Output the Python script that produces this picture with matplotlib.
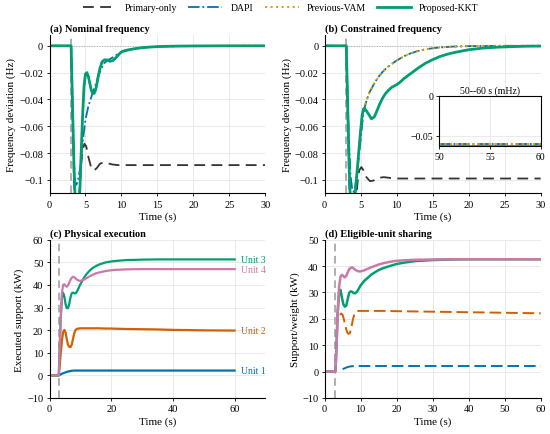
import numpy as np
import matplotlib
matplotlib.use("Agg")
import matplotlib.pyplot as plt
from matplotlib.ticker import FuncFormatter

# ---- (a) nominal frequency ----
ta_kkt = [0, 3.0, 3.2, 3.4, 3.6, 3.8, 4.0, 4.2, 4.4, 4.6, 4.8, 5.0, 5.2, 5.4, 5.6, 5.8, 6.0, 6.2, 6.4,
          6.6, 6.8, 7.0, 7.3, 7.6, 8.0, 8.4, 8.8, 9.2, 9.6, 10, 10.5, 11, 12, 13, 14, 15, 16, 18, 20, 25, 30]
fa_kkt = [0, 0, -0.045, -0.09, -0.12, -0.13, -0.125, -0.11, -0.08, -0.052, -0.03, -0.021, -0.020, -0.023,
          -0.028, -0.033, -0.0355, -0.0355, -0.033, -0.028, -0.022, -0.017, -0.012, -0.0105, -0.0105, -0.0115,
          -0.011, -0.009, -0.0065, -0.0045, -0.0035, -0.003, -0.002, -0.0013, -0.0009, -0.0006, -0.0004,
          -0.0002, -0.0001, 0, 0]
ta_dapi = [0, 3.0, 3.2, 3.4, 3.6, 3.8, 4.0, 4.3, 4.6, 5.0, 5.4, 5.7, 6.0, 6.4, 6.8, 7.2, 7.6, 8.0, 8.5,
           9.0, 9.5, 10, 11, 12, 13, 14, 16, 18, 20, 25, 30]
fa_dapi = [0, 0, -0.045, -0.088, -0.104, -0.103, -0.099, -0.09, -0.072, -0.055, -0.045, -0.04, -0.035,
           -0.029, -0.022, -0.017, -0.013, -0.011, -0.0095, -0.008, -0.006, -0.0045, -0.003, -0.002,
           -0.0013, -0.0009, -0.0004, -0.0002, -0.0001, 0, 0]
ta_vam = ta_kkt
fa_vam = fa_kkt
ta_prim = [0, 3.0, 3.2, 3.4, 3.7, 4.0, 4.2, 4.4, 4.6, 4.85, 5.1, 5.4, 5.8, 6.2, 6.6, 7.0, 7.5, 8.0, 8.7,
           9.5, 12, 15, 20, 25, 30]
fa_prim = [0, 0, -0.05, -0.1, -0.145, -0.125, -0.105, -0.088, -0.078, -0.073, -0.075, -0.083, -0.091,
           -0.093, -0.091, -0.088, -0.087, -0.0875, -0.0885, -0.089, -0.089, -0.089, -0.089, -0.089, -0.089]

# ---- (b) constrained frequency ----
tb_kkt = [0, 3.0, 3.2, 3.4, 3.6, 3.8, 4.0, 4.2, 4.4, 4.6, 4.8, 5.0, 5.2, 5.4, 5.5, 5.8, 6.1, 6.5, 6.9,
          7.3, 7.6, 8.0, 8.4, 8.8, 9.3, 10, 10.5, 11, 12, 13, 14, 15, 16, 17, 18, 20, 22, 24, 26, 28, 30]
fb_kkt = [0, 0, -0.045, -0.09, -0.12, -0.135, -0.13, -0.112, -0.1, -0.088, -0.075, -0.063, -0.052, -0.047,
          -0.0466, -0.0485, -0.051, -0.0545, -0.053, -0.048, -0.044, -0.0395, -0.036, -0.0335, -0.031,
          -0.029, -0.027, -0.0245, -0.0205, -0.0165, -0.013, -0.0103, -0.008, -0.0063, -0.005, -0.0029,
          -0.0017, -0.001, -0.0006, -0.0003, -0.0002]
tb_dapi = [0, 3.0, 3.2, 3.4, 3.6, 3.8, 4.0, 4.2, 4.4, 4.6, 4.8, 5.0, 5.2, 5.4, 5.6, 5.8, 6.2, 6.6, 7.0,
           7.5, 8.0, 8.5, 9.0, 9.5, 10, 11, 12, 13, 14, 15, 16, 18, 20, 22, 25, 30]
fb_dapi = [0, 0, -0.04, -0.075, -0.097, -0.106, -0.109, -0.107, -0.099, -0.09, -0.08, -0.07, -0.059, -0.05,
           -0.045, -0.041, -0.035, -0.031, -0.027, -0.023, -0.0197, -0.017, -0.0148, -0.0128, -0.011,
           -0.0078, -0.0055, -0.0038, -0.0026, -0.0018, -0.0012, -0.0005, -0.0002, -0.0001, 0, 0]
tb_vam = [0, 3.0, 3.2, 3.4, 3.6, 3.8, 4.0, 4.2, 4.4, 4.6, 4.8, 5.0, 5.2, 5.4, 5.6, 5.8, 6.2, 6.6, 7.0,
          7.5, 8.0, 8.5, 9.0, 9.5, 10, 11, 12, 13, 14, 15, 16, 18, 20, 22, 25, 30]
fb_vam = [0, 0, -0.045, -0.09, -0.12, -0.135, -0.13, -0.112, -0.1, -0.088, -0.075, -0.063, -0.052, -0.047,
          -0.045, -0.041, -0.035, -0.031, -0.027, -0.023, -0.0197, -0.017, -0.0148, -0.0128, -0.011,
          -0.0078, -0.0055, -0.0038, -0.0026, -0.0018, -0.0012, -0.0005, -0.0002, -0.0001, 0, 0]
tb_prim = [0, 3.0, 3.2, 3.4, 3.6, 3.8, 4.0, 4.2, 4.4, 4.6, 4.8, 5.1, 5.4, 5.8, 6.3, 6.8, 7.5, 8.2, 9, 10,
           12, 20, 30]
fb_prim = [0, 0, -0.05, -0.1, -0.135, -0.148, -0.145, -0.13, -0.112, -0.1, -0.093, -0.0905, -0.093, -0.098,
           -0.101, -0.1005, -0.0985, -0.098, -0.0985, -0.099, -0.099, -0.099, -0.099]

# inset 50--60 s
t_ins = [50, 52.5, 55, 57.5, 60]
ins_dapi = [-0.0610, -0.0610, -0.0610, -0.0610, -0.0610]
ins_vam = [-0.0608, -0.0608, -0.0608, -0.0608, -0.0608]
ins_kkt = [-0.0628, -0.0628, -0.0628, -0.0628, -0.0628]
ins_prim = [-0.099, -0.099, -0.099, -0.099, -0.099]

# ---- (c) physical execution ----
tc = [0, 3.0, 3.3, 3.6, 4.0, 4.4, 4.8, 5.2, 5.6, 6.0, 6.4, 6.8, 7.2, 7.6, 8.0, 8.5, 9.0, 9.5, 10, 11, 12,
      13, 14, 15, 16, 18, 20, 22, 25, 30, 35, 40, 45, 50, 55, 60]
unit1 = [0, 0, 0.2, 0.4, 0.7, 0.9, 1.1, 1.3, 1.5, 1.65, 1.8, 1.9, 2.0, 2.05, 2.1, 2.1, 2.1, 2.1, 2.1, 2.1,
         2.1, 2.1, 2.1, 2.1, 2.1, 2.1, 2.1, 2.1, 2.1, 2.1, 2.1, 2.1, 2.1, 2.1, 2.1, 2.1]
unit2 = [0, 0, 4, 9, 15, 19, 20.1, 19, 16, 13.5, 12.6, 12.5, 13.5, 16, 18.5, 20.2, 20.6, 20.7, 20.8, 20.8,
         20.8, 20.8, 20.8, 20.8, 20.8, 20.7, 20.7, 20.6, 20.5, 20.4, 20.3, 20.1, 20.0, 19.9, 19.85, 19.8]
unit3 = [0, 0, 12, 24, 34, 36.5, 35, 31.5, 29.7, 29.8, 31.5, 34.5, 36.3, 36.6, 36.3, 36.3, 37.3, 38.8,
         40.3, 42.8, 44.8, 46.3, 47.5, 48.3, 49.0, 49.9, 50.4, 50.7, 51.0, 51.2, 51.3, 51.3, 51.3, 51.3,
         51.3, 51.3]
unit4 = [0, 0, 12, 24, 36, 40, 40.3, 39.6, 39.2, 39.8, 41, 42.3, 43.2, 43.6, 43.4, 42.8, 42.3, 41.9, 41.8,
         42.2, 43.0, 43.8, 44.5, 45.1, 45.5, 46.1, 46.5, 46.7, 46.9, 47.0, 47.0, 47.0, 47.0, 47.0, 47.0, 47.0]
unit_names = ["Unit 1", "Unit 2", "Unit 3", "Unit 4"]

# ---- (d) eligible-unit sharing ----
td = tc
share4 = [0, 0, 10, 22, 32, 36, 36.7, 36.2, 35.7, 36.3, 37.6, 38.8, 39.3, 39.5, 39.2, 38.6, 38.2, 38.0,
          38.0, 38.4, 39.0, 39.6, 40.1, 40.6, 41.0, 41.6, 42.0, 42.2, 42.4, 42.5, 42.6, 42.6, 42.6, 42.6,
          42.6, 42.6]
share3 = [0, 0, 10, 22, 30, 31, 28, 25.5, 24.6, 25, 27.5, 29.8, 30.4, 30.3, 29.8, 29.7, 30.3, 31.5, 32.7,
          34.4, 35.6, 36.8, 37.7, 38.5, 39.1, 40.0, 40.8, 41.3, 41.9, 42.3, 42.5, 42.6, 42.6, 42.6, 42.6, 42.6]
td2 = [4.2, 4.6, 5.0, 5.4, 5.8, 6.2, 6.6, 7.0, 7.4, 7.8, 8.2, 8.6, 9.0, 9.5, 10, 11, 12, 14, 16, 20, 25,
       30, 35, 40, 45, 50, 55, 60]
share2 = [21.5, 22.0, 21.5, 19.5, 17, 15, 14.3, 14.5, 16.5, 19.5, 21.5, 22.6, 22.9, 23.0, 23.0, 23.0, 23.0,
          23.0, 23.0, 22.9, 22.8, 22.7, 22.6, 22.5, 22.4, 22.3, 22.2, 22.1]
td1 = [5.0, 5.5, 6.0, 6.5, 7.0, 7.5, 8.0, 9, 10, 15, 20, 30, 40, 50, 60]
share1 = [0.9, 1.2, 1.5, 1.75, 1.9, 2.0, 2.05, 2.1, 2.1, 2.1, 2.1, 2.1, 2.1, 2.1, 2.1]

t_event = 3.0

C_PRIM = '#333333'
C_DAPI = '#0072B2'
C_VAM = '#E69F00'
C_KKT = '#009E73'
unit_colors = ['#0072B2', '#D55E00', '#009E73', '#CC79A7']


def fmt(v, pos):
    s = '%g' % v
    return s.replace('-', '\u2212')


def style(ax, title):
    ax.grid(True, color='#e6e6e6', linewidth=0.6)
    ax.set_axisbelow(True)
    for s in ['top', 'right']:
        ax.spines[s].set_visible(False)
    ax.spines['left'].set_linewidth(0.8)
    ax.spines['bottom'].set_linewidth(0.8)
    ax.tick_params(labelsize=7.5, length=2.5, width=0.6, pad=2)
    ax.yaxis.set_major_formatter(FuncFormatter(fmt))
    ax.set_title(title, loc='left', fontweight='bold', fontsize=7.5, pad=3)
    ax.axvline(t_event, color='#999999', linestyle=(0, (5, 3)), linewidth=1.1, zorder=1.5)


def freq_panel(ax, tp, fp, td_, fd, tv, fv, tk, fk, title):
    style(ax, title)
    ax.axhline(0, color='#aaaaaa', linestyle=':', linewidth=0.7, zorder=1)
    ax.plot(tp, fp, color=C_PRIM, linestyle=(0, (6, 3.5)), linewidth=1.3, label='Primary-only')
    ax.plot(td_, fd, color=C_DAPI, linestyle='-.', linewidth=1.3, label='DAPI')
    ax.plot(tv, fv, color=C_VAM, linestyle=':', linewidth=1.5, label='Previous-VAM')
    ax.plot(tk, fk, color=C_KKT, linestyle='-', linewidth=2.0, label='Proposed-KKT')
    ax.set_xlim(0, 30)
    ax.set_ylim(-0.11, 0.008)
    ax.set_xticks([0, 5, 10, 15, 20, 25, 30])
    ax.set_yticks([0, -0.02, -0.04, -0.06, -0.08, -0.1])
    ax.set_xlabel('Time (s)', fontsize=8, labelpad=2)
    ax.set_ylabel('Frequency deviation (Hz)', fontsize=8, labelpad=2)


def main():
    plt.rcParams['font.family'] = ['Liberation Serif', 'DejaVu Serif']
    plt.rcParams['mathtext.fontset'] = 'stix'

    fig, axes = plt.subplots(2, 2, figsize=(5.5, 4.35), dpi=100)
    fig.subplots_adjust(left=0.09, right=0.983, top=0.917, bottom=0.083, wspace=0.274, hspace=0.294)
    ax_a, ax_b = axes[0]
    ax_c, ax_d = axes[1]

    freq_panel(ax_a, ta_prim, fa_prim, ta_dapi, fa_dapi, ta_vam, fa_vam, ta_kkt, fa_kkt,
               '(a) Nominal frequency')
    freq_panel(ax_b, tb_prim, fb_prim, tb_dapi, fb_dapi, tb_vam, fb_vam, tb_kkt, fb_kkt,
               '(b) Constrained frequency')

    # inset
    ins = ax_b.inset_axes([0.53, 0.296, 0.47, 0.32])
    ins.plot(t_ins, ins_prim, color=C_PRIM, linestyle=(0, (6, 3.5)), linewidth=1.3)
    ins.plot(t_ins, ins_dapi, color=C_DAPI, linestyle='-.', linewidth=1.3)
    ins.plot(t_ins, ins_vam, color=C_VAM, linestyle=':', linewidth=1.5)
    ins.plot(t_ins, ins_kkt, color=C_KKT, linestyle='-', linewidth=2.0)
    ins.set_xlim(50, 60)
    ins.set_ylim(-0.0635, 0)
    ins.set_xticks([50, 55, 60])
    ins.set_yticks([0, -0.05])
    ins.yaxis.set_major_formatter(FuncFormatter(fmt))
    ins.grid(True, color='#e6e6e6', linewidth=0.6)
    ins.tick_params(labelsize=7, length=2, width=0.6, pad=2)
    for s in ins.spines.values():
        s.set_linewidth(0.8)
    ins.set_title('50--60 s (mHz)', fontsize=7, pad=2)

    # (c)
    style(ax_c, '(c) Physical execution')
    for vals, c, name in zip([unit1, unit2, unit3, unit4], unit_colors, unit_names):
        ax_c.plot(tc, vals, color=c, linewidth=1.6)
        ax_c.text(62, vals[-1], name, color=c, fontsize=7, va='center', ha='left')
    ax_c.set_xlim(0, 70)
    ax_c.set_ylim(-10, 60)
    ax_c.set_xticks([0, 20, 40, 60])
    ax_c.set_yticks([-10, 0, 10, 20, 30, 40, 50, 60])
    ax_c.set_xlabel('Time (s)', fontsize=8, labelpad=2)
    ax_c.set_ylabel('Executed support (kW)', fontsize=8, labelpad=2)

    # (d)
    style(ax_d, '(d) Eligible-unit sharing')
    ax_d.plot(td1, share1, color=unit_colors[0], linestyle=(0, (6, 2.5)), linewidth=1.4)
    ax_d.plot(td2, share2, color=unit_colors[1], linestyle=(0, (6, 2.5)), linewidth=1.4)
    ax_d.plot(td, share3, color=unit_colors[2], linewidth=1.8)
    ax_d.plot(td, share4, color=unit_colors[3], linewidth=1.8)
    ax_d.set_xlim(0, 60)
    ax_d.set_ylim(-10, 50)
    ax_d.set_xticks([0, 10, 20, 30, 40, 50, 60])
    ax_d.set_yticks([-10, 0, 10, 20, 30, 40, 50])
    ax_d.set_xlabel('Time (s)', fontsize=8, labelpad=2)
    ax_d.set_ylabel('Support/weight (kW)', fontsize=8, labelpad=2)

    handles, labels = ax_a.get_legend_handles_labels()
    fig.legend(handles, labels, loc='upper center', bbox_to_anchor=(0.51, 1.01), ncol=4, frameon=False,
               fontsize=7, handlelength=3.5, columnspacing=1.2, handletextpad=0.8)

    fig.savefig('out.png', dpi=100)


if __name__ == '__main__':
    main()
